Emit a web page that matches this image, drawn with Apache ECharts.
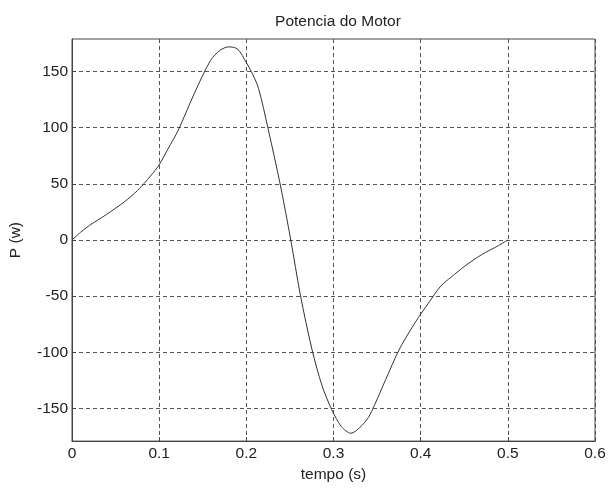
<!DOCTYPE html>
<html>
<head>
<meta charset="utf-8">
<script src="https://cdn.jsdelivr.net/npm/echarts@6/dist/echarts.min.js"></script>
<style>
  html, body { margin: 0; padding: 0; background: #fff; }
  #chart { width: 609px; height: 488px; }
</style>
</head>
<body>
<div id="chart"></div>
<script>
// curve: time (s) and power (w)
const tempo = [0, 0.01, 0.02, 0.04, 0.06, 0.075, 0.09, 0.1, 0.11, 0.122, 0.14, 0.159, 0.17, 0.18, 0.19, 0.2, 0.207, 0.214, 0.225, 0.239, 0.251, 0.262, 0.2755, 0.287, 0.298, 0.309, 0.32, 0.33, 0.34, 0.347, 0.36, 0.375, 0.39, 0.4, 0.41, 0.423, 0.435, 0.451, 0.47, 0.489, 0.5];
const potencia = [0, 7, 13, 23, 34, 44, 57, 67, 81, 98, 130, 160, 169, 172, 170, 158, 148, 135, 99, 49, 0, -49, -98, -130, -151, -166, -172, -167, -158, -147, -124, -98, -78, -66, -55, -41, -33, -23, -13, -5, 0];
const yTicks = [-150, -100, -50, 0, 50, 100, 150];

const axisColor = '#444';
const textColor = '#222';
const font = 'Liberation Sans, Arial, sans-serif';
const fs = 15.5;

const option = {
  animation: false,
  title: {
    text: 'Potencia do Motor',
    left: 333,
    top: 9,
    textAlign: 'center',
    textStyle: { fontSize: fs, fontWeight: 'normal', color: textColor, fontFamily: font }
  },
  grid: {
    left: 72,
    right: 14,
    top: 39,
    bottom: 41,
    show: true,
    borderColor: axisColor,
    borderWidth: 1
  },
  xAxis: {
    type: 'value',
    min: 0,
    max: 0.6,
    interval: 0.1,
    name: 'tempo (s)',
    nameLocation: 'middle',
    nameGap: 24,
    nameTextStyle: { fontSize: fs, color: textColor, fontFamily: font },
    axisLine: { onZero: false, lineStyle: { color: axisColor } },
    axisTick: { inside: true, length: 4, lineStyle: { color: axisColor } },
    axisLabel: { fontSize: fs, color: textColor, fontFamily: font, margin: 5 },
    splitLine: { lineStyle: { color: '#555', type: [4, 3], width: 1 } }
  },
  yAxis: {
    type: 'value',
    min: -179,
    max: 179,
    name: 'P (w)',
    nameLocation: 'middle',
    nameGap: 48,
    nameTextStyle: { fontSize: fs, color: textColor, fontFamily: font },
    axisLine: { show: true, onZero: false, lineStyle: { color: axisColor } },
    axisTick: { show: true, inside: true, length: 4, customValues: yTicks, lineStyle: { color: axisColor } },
    axisLabel: { fontSize: fs, color: textColor, fontFamily: font, margin: 4, customValues: yTicks },
    splitLine: { lineStyle: { color: '#555', type: [4, 3], width: 1 } }
  },
  series: [
    {
      type: 'line',
      data: tempo.map((t, i) => [t, potencia[i]]),
      showSymbol: false,
      smooth: 0.3,
      lineStyle: { color: '#333', width: 1 }
    }
  ]
};

const chart = echarts.init(document.getElementById('chart'));
chart.setOption(option);
</script>
</body>
</html>
